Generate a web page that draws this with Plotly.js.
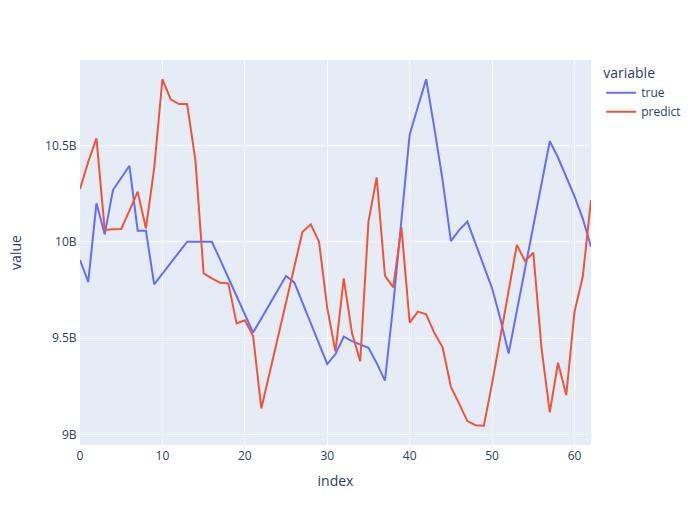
<!DOCTYPE html>
<html>
<head>
<meta charset="utf-8">
<script src="https://cdn.plot.ly/plotly-3.0.1.min.js"></script>
<style>html,body{margin:0;padding:0;background:#fff;}#chart{width:698px;height:525px;}</style>
</head>
<body>
<div id="chart"></div>
<script>
// values in billions
const trueValues = [9.905,9.792,10.199,10.038,10.268,10.334,10.394,10.057,10.057,9.779,
  9.834,9.889,9.945,10.0,10.0,10.0,10.0,9.907,9.813,9.72,
  9.624,9.529,9.602,9.675,9.749,9.822,9.789,9.684,9.578,9.471,
  9.365,9.417,9.507,9.484,9.467,9.45,9.37,9.279,9.67,10.097,
  10.557,10.70,10.843,10.588,10.317,10.003,10.06,10.104,9.988,9.874,
  9.758,9.60,9.42,9.64,9.86,10.08,10.30,10.521,10.437,10.337,
  10.235,10.12,9.974];
const predictValues = [10.273,10.415,10.536,10.061,10.064,10.066,10.161,10.26,10.069,10.38,
  10.843,10.739,10.714,10.714,10.424,9.836,9.81,9.787,9.784,9.576,
  9.592,9.512,9.135,9.32,9.50,9.68,9.86,10.052,10.09,10.0,
  9.655,9.43,9.81,9.526,9.38,10.104,10.334,9.824,9.763,10.074,
  9.58,9.637,9.623,9.526,9.452,9.247,9.16,9.069,9.048,9.045,
  9.265,9.507,9.76,9.983,9.9,9.943,9.446,9.114,9.372,9.204,
  9.637,9.818,10.216];
const seriesNames = ["true", "predict"];
const seriesColors = ["#636efa", "#EF553B"];

const index = trueValues.map((_, i) => i);
const traces = [trueValues, predictValues].map((vals, k) => ({
  type: "scatter",
  mode: "lines",
  name: seriesNames[k],
  legendgroup: seriesNames[k],
  x: index,
  y: vals.map(v => v * 1e9),
  line: {color: seriesColors[k], width: 2, dash: "solid"},
  showlegend: true
}));

const axisCommon = {
  gridcolor: "white",
  linecolor: "white",
  zerolinecolor: "white",
  zerolinewidth: 2,
  ticks: "",
  automargin: true
};

const layout = {
  width: 698,
  height: 525,
  paper_bgcolor: "white",
  plot_bgcolor: "#E5ECF6",
  font: {family: '"Open Sans", verdana, arial, sans-serif', size: 12, color: "#2a3f5f"},
  margin: {t: 60, l: 80, b: 80, r: 80},
  xaxis: Object.assign({}, axisCommon, {title: {text: "index", standoff: 12}, range: [0, 62]}),
  yaxis: Object.assign({}, axisCommon, {title: {text: "value", standoff: 20}, exponentformat: "B", tick0: 0, dtick: 5e8}),
  legend: {title: {text: "variable"}, tracegroupgap: 0},
  showlegend: true
};

Plotly.newPlot("chart", traces, layout, {displayModeBar: false, staticPlot: true});
</script>
</body>
</html>
